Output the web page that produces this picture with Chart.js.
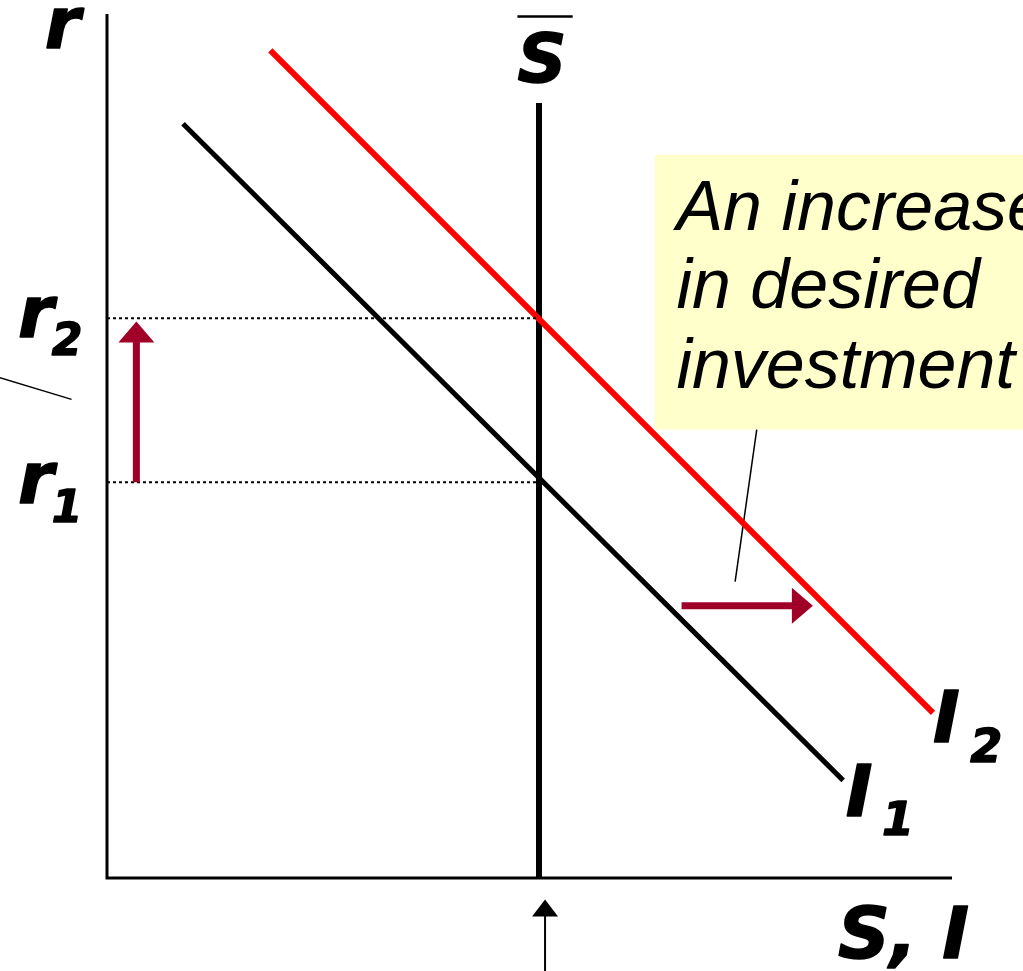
<!DOCTYPE html>
<html>
<head>
<meta charset="utf-8">
<script src="https://cdn.jsdelivr.net/npm/chart.js@4"></script>
<style>
    html, body { margin: 0; padding: 0; background: #fff; }
    #wrap { width: 1023px; height: 971px; position: relative; }
</style>
</head>
<body>
<div id="wrap"><canvas id="chart"></canvas></div>
<script>
// Axis ranges (data units)
const xMax = 9.78;
const yMax = 10;

// Fixed savings supply (S-bar) and the two interest rates
const savingsLevel = 5.0;
const savingsTop = 8.97;
const rateLow = 4.58;
const rateHigh = 6.48;

// Investment curves: end points
const invest1X = [0.88, 8.52];
const invest1Y = [8.73, 1.13];
const invest2X = [1.89, 9.56];
const invest2Y = [9.58, 1.91];

// Arrows: [startX, startY, tipX, tipY]
const rateArrow = [0.34, 4.58, 0.34, 6.44];
const shiftArrow = [6.65, 3.15, 8.17, 3.15];
const savingsArrow = [5.07, -1.15, 5.07, -0.25];

// Callout box and its pointer line
const boxX = [6.34, 10.8];
const boxY = [5.19, 8.37];
const boxLines = ['An increase', 'in desired', 'investment'];
const boxLineY = [7.50, 6.60, 5.67];
const boxTextX = 6.59;
const pointerX = [7.52, 7.27];
const pointerY = [5.19, 3.43];

// Stray slash mark left of the axis
const slashX = [-1.24, -0.41];
const slashY = [5.79, 5.54];

// Overbar on the S label
const overbarX = [4.75, 5.39];
const overbarY = 9.97;

// Axis labels
const labelText = ['r', 'r', '2', 'r', '1', 'S', 'I', '1', 'I', '2', 'S, I'];
const labelX    = [-0.72, -1.03, -0.64, -1.03, -0.64, 4.75, 8.55, 8.97, 9.56, 9.99, 8.46];
const labelY    = [9.61, 6.26, 6.05, 4.34, 4.12, 9.21, 0.72, 0.50, 1.57, 1.34, -0.93];
const labelSize = [72, 72, 44, 72, 44, 68, 72, 46, 72, 46, 72];

const arrowRed = '#a00028';

function seg(xs, ys) {
    return [{ x: xs[0], y: ys[0] }, { x: xs[1], y: ys[1] }];
}

function lineSet(data, color, width, dash) {
    return {
        data: data,
        borderColor: color,
        borderWidth: width,
        borderDash: dash || [],
        pointRadius: 0,
        fill: false,
        tension: 0,
        clip: false
    };
}

const datasets = [
    lineSet([{ x: 0, y: yMax }, { x: 0, y: 0 }, { x: xMax, y: 0 }], '#000', 3),
    lineSet(seg([0, savingsLevel], [rateHigh, rateHigh]), '#000', 2, [3, 3]),
    lineSet(seg([0, savingsLevel], [rateLow, rateLow]), '#000', 2, [3, 3]),
    lineSet(seg(invest1X, invest1Y), '#000', 5),
    lineSet(seg(invest2X, invest2Y), '#ff0000', 6),
    lineSet(seg([savingsLevel, savingsLevel], [0, savingsTop]), '#000', 6),
    lineSet(seg(pointerX, pointerY), '#000', 1.5),
    lineSet(seg(slashX, slashY), '#000', 1.5),
    lineSet(seg(overbarX, [overbarY, overbarY]), '#000', 2.5)
];

// Callout box behind the curves
const calloutBox = {
    id: 'calloutBox',
    beforeDatasetsDraw(chart) {
        const { ctx, scales: { x, y } } = chart;
        const x0 = x.getPixelForValue(boxX[0]);
        const x1 = x.getPixelForValue(boxX[1]);
        const y0 = y.getPixelForValue(boxY[1]);
        const y1 = y.getPixelForValue(boxY[0]);
        ctx.save();
        ctx.fillStyle = '#ffffcc';
        ctx.fillRect(x0, y0, x1 - x0, y1 - y0);
        ctx.fillStyle = '#000';
        ctx.font = 'italic 70px "Liberation Sans", Arial, sans-serif';
        ctx.textBaseline = 'alphabetic';
        ctx.textAlign = 'left';
        boxLines.forEach((line, i) => {
            ctx.fillText(line, x.getPixelForValue(boxTextX), y.getPixelForValue(boxLineY[i]));
        });
        ctx.restore();
    }
};

// Arrows and labels on top
const annotations = {
    id: 'annotations',
    afterDatasetsDraw(chart) {
        const { ctx, scales: { x, y } } = chart;

        function arrow(a, color, shaft, headLen, headW) {
            const sx = x.getPixelForValue(a[0]), sy = y.getPixelForValue(a[1]);
            const tx = x.getPixelForValue(a[2]), ty = y.getPixelForValue(a[3]);
            const ang = Math.atan2(ty - sy, tx - sx);
            const bx = tx - Math.cos(ang) * headLen;
            const by = ty - Math.sin(ang) * headLen;
            ctx.save();
            ctx.strokeStyle = color;
            ctx.fillStyle = color;
            ctx.lineWidth = shaft;
            ctx.beginPath();
            ctx.moveTo(sx, sy);
            ctx.lineTo(bx + Math.cos(ang), by + Math.sin(ang));
            ctx.stroke();
            ctx.beginPath();
            ctx.moveTo(tx, ty);
            ctx.lineTo(bx + Math.sin(ang) * headW / 2, by - Math.cos(ang) * headW / 2);
            ctx.lineTo(bx - Math.sin(ang) * headW / 2, by + Math.cos(ang) * headW / 2);
            ctx.closePath();
            ctx.fill();
            ctx.restore();
        }

        arrow(rateArrow, arrowRed, 7, 21, 36);
        arrow(shiftArrow, arrowRed, 7, 21, 36);
        arrow(savingsArrow, '#000', 2, 17, 26);

        ctx.save();
        ctx.fillStyle = '#000';
        ctx.strokeStyle = '#000';
        ctx.lineWidth = 1.5;
        ctx.lineJoin = 'round';
        ctx.textBaseline = 'alphabetic';
        ctx.textAlign = 'left';
        labelText.forEach((t, i) => {
            ctx.font = 'italic bold ' + labelSize[i] + 'px "DejaVu Sans", Verdana, sans-serif';
            const px = x.getPixelForValue(labelX[i]);
            const py = y.getPixelForValue(labelY[i]);
            ctx.fillText(t, px, py);
            ctx.strokeText(t, px, py);
        });
        ctx.restore();
    }
};

new Chart(document.getElementById('chart'), {
    type: 'line',
    data: { datasets: datasets },
    options: {
        responsive: true,
        maintainAspectRatio: false,
        animation: false,
        layout: { padding: { left: 107, right: 71, top: 14, bottom: 93 } },
        scales: {
            x: { type: 'linear', min: 0, max: xMax, display: false },
            y: { type: 'linear', min: 0, max: yMax, display: false }
        },
        plugins: {
            legend: { display: false },
            tooltip: { enabled: false }
        }
    },
    plugins: [calloutBox, annotations]
});
</script>
</body>
</html>
